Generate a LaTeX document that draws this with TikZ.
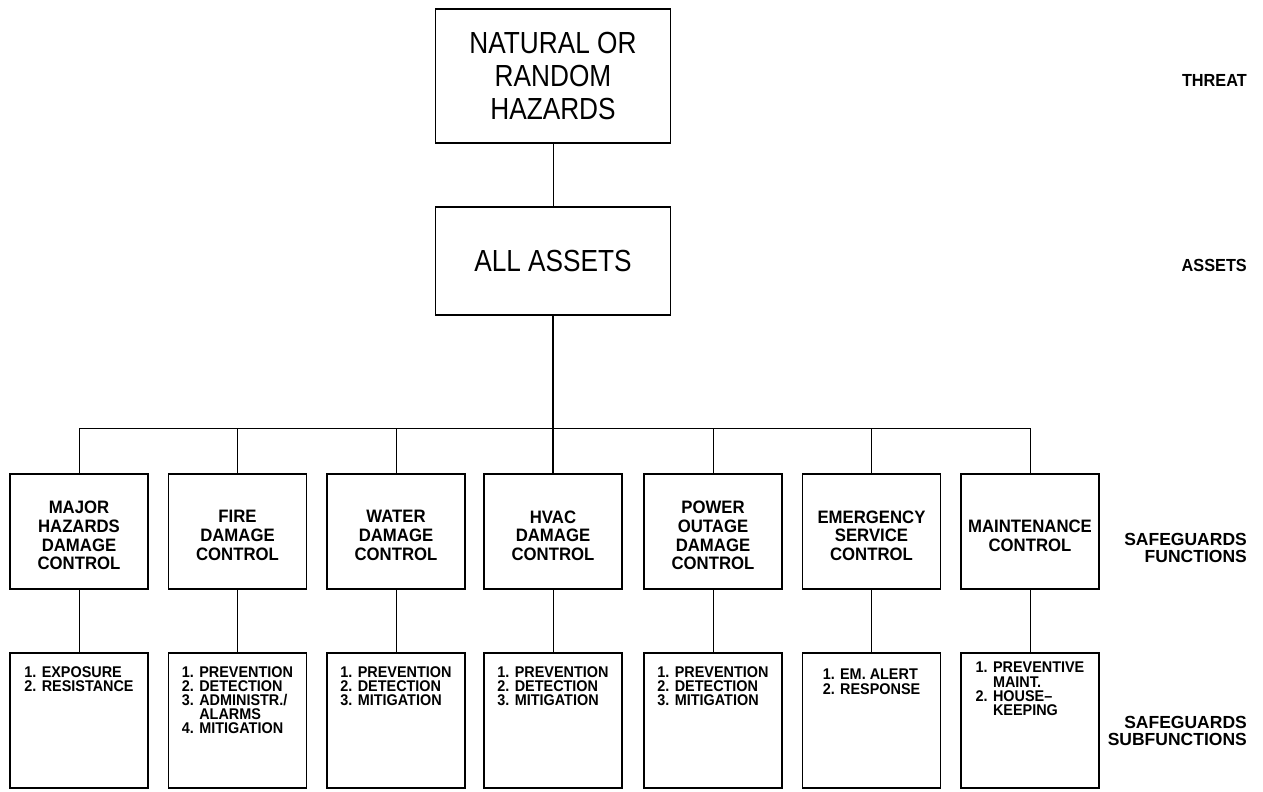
\documentclass[tikz,border=0pt]{standalone}
\usepackage{fontspec}
\setmainfont{Liberation Sans}
\newfontfamily\headfont[FakeStretch=0.86]{Liberation Sans}
\newfontfamily\boxfont[FakeStretch=0.93]{Liberation Sans}
% indent a continued list line past its "n. " number
\newcommand\subindent[1]{\phantom{3. }#1}

\begin{document}
\begin{tikzpicture}[x=1pt,y=-1pt,
  frame/.style={draw, line width=1.1pt, inner sep=0pt},
  topbox/.style={frame, minimum width=235pt, align=center,
    font=\headfont\fontsize{30.5}{33}\selectfont},
  fnbox/.style={frame, minimum width=138pt, minimum height=115pt},
  fntext/.style={inner sep=0pt, align=center, yshift=-4pt,
    font=\boxfont\bfseries\fontsize{18}{18.7}\selectfont},
  subbox/.style={frame, minimum width=138pt, minimum height=135pt},
  subtext/.style={anchor=north, inner sep=0pt, align=left,
    font=\boxfont\bfseries\fontsize{15.5}{14.2}\selectfont},
  sidelabel/.style={anchor=east, inner sep=0pt, align=right,
    font=\boxfont\bfseries\fontsize{17.5}{16.5}\selectfont},
  widelabel/.style={sidelabel, font=\bfseries\fontsize{17.5}{16.5}\selectfont},
  conn/.style={line width=1pt},
  trunk/.style={line width=1.6pt}
]
\fill[white] (0,0) rectangle (1263,792);
\useasboundingbox (0,0) rectangle (1263,792);

% threat and assets
\node[topbox, minimum height=134pt] (haz) at (553,76) {NATURAL OR\\RANDOM\\HAZARDS};
\node[topbox, minimum height=108pt] (assets) at (553,261) {ALL ASSETS};

% safeguard functions
\node[fnbox] (f1) at (79,531.5) {};
\node[fnbox] (f2) at (237.5,531.5) {};
\node[fnbox] (f3) at (396,531.5) {};
\node[fnbox] (f4) at (553,531.5) {};
\node[fnbox] (f5) at (713,531.5) {};
\node[fnbox] (f6) at (871.5,531.5) {};
\node[fnbox] (f7) at (1030,531.5) {};

\node[fntext] (g1) at (f1) {MAJOR\\HAZARDS\\DAMAGE\\CONTROL};
\node[fntext] (g2) at (f2) {FIRE\\DAMAGE\\CONTROL};
\node[fntext] (g3) at (f3) {WATER\\DAMAGE\\CONTROL};
\node[fntext] (g4) at (f4) {HVAC\\DAMAGE\\CONTROL};
\node[fntext] (g5) at (f5) {POWER\\OUTAGE\\DAMAGE\\CONTROL};
\node[fntext] (g6) at (f6) {EMERGENCY\\SERVICE\\CONTROL};
\node[fntext] (g7) at (f7) {MAINTENANCE\\CONTROL};

% safeguard subfunctions
\node[subbox] (s1) at (79,720.5) {};
\node[subbox] (s2) at (237.5,720.5) {};
\node[subbox] (s3) at (396,720.5) {};
\node[subbox] (s4) at (553,720.5) {};
\node[subbox] (s5) at (713,720.5) {};
\node[subbox] (s6) at (871.5,720.5) {};
\node[subbox] (s7) at (1030,720.5) {};

\node[subtext] (t1) at (79,666)    {1. EXPOSURE\\2. RESISTANCE};
\node[subtext] (t2) at (237.5,666) {1. PREVENTION\\2. DETECTION\\3. ADMINISTR./\\\subindent{ALARMS}\\4. MITIGATION};
\node[subtext] (t3) at (396,666)   {1. PREVENTION\\2. DETECTION\\3. MITIGATION};
\node[subtext] (t4) at (553,666)   {1. PREVENTION\\2. DETECTION\\3. MITIGATION};
\node[subtext] (t5) at (713,666)   {1. PREVENTION\\2. DETECTION\\3. MITIGATION};
\node[subtext] (t6) at (871.5,669) {1. EM. ALERT\\2. RESPONSE};
\node[subtext] (t7) at (1030,662)  {1. PREVENTIVE\\\subindent{MAINT.}\\2. HOUSE–\\\subindent{KEEPING}};

% level labels
\node[sidelabel] (lthreat) at (1247,80)  {THREAT};
\node[sidelabel] (lassets) at (1247,265) {ASSETS};
\node[widelabel] (lfun) at (1247,548) {SAFEGUARDS\\FUNCTIONS};
\node[widelabel] (lsub) at (1247,731) {SAFEGUARDS\\SUBFUNCTIONS};

% connectors
\coordinate (bus) at (0,428);
\draw[conn] (haz.south) -- (assets.north);
\draw[trunk] (assets.south) -- (f4.north);
\draw[conn] (f1.north) -- (f1.north |- bus) -| (f7.north);
\foreach \f in {f2,f3,f5,f6}
  \draw[conn] (\f.north) -- (\f.north |- bus);
\foreach \i in {1,...,7}
  \draw[conn] (f\i.south) -- (s\i.north);
\end{tikzpicture}
\end{document}
